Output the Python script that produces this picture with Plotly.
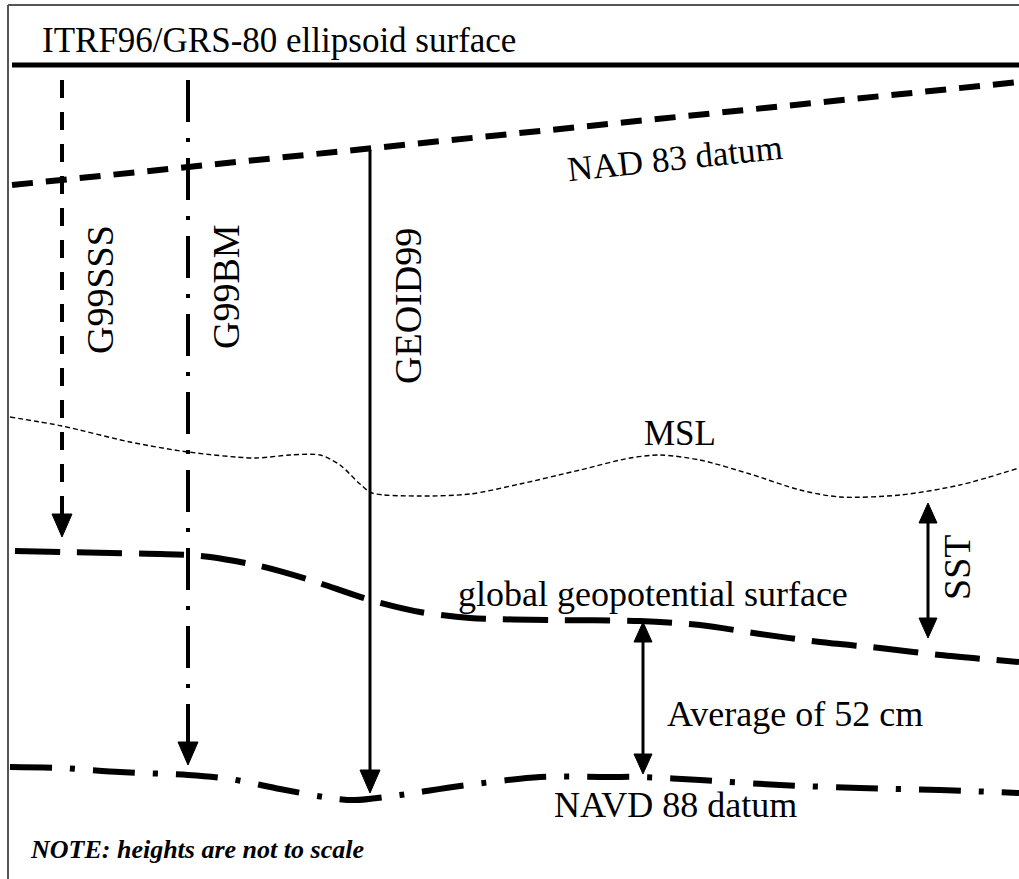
import plotly.graph_objects as go

# ---- data (diagram coordinates, pixel-like units, y grows downward) ----
nad83_x = [12, 1019]
nad83_y = [185, 82]

msl_x = [10, 62, 130, 188, 255, 290, 320, 340, 360, 372, 420, 470, 520, 580, 630, 660, 700, 750, 800, 840, 900, 960, 1019]
msl_y = [417, 426, 442, 452, 458, 455, 455, 465, 484, 493, 496, 494, 484, 470, 458, 455, 460, 474, 490, 497, 495, 485, 468]

geo_x = [15, 62, 188, 210, 260, 310, 370, 420, 470, 550, 640, 700, 760, 820, 880, 940, 1019]
geo_y = [551, 552, 555, 557, 566, 580, 600, 612, 618, 620, 621, 625, 634, 642, 648, 655, 662]

navd_x = [10, 60, 120, 188, 230, 280, 330, 355, 400, 460, 540, 600, 640, 700, 780, 860, 940, 1019]
navd_y = [767, 768, 772, 775, 779, 789, 798, 800, 795, 786, 777, 777, 777, 780, 785, 788, 790, 793]

# vertical separations: name, x, top, bottom(tip)
sep_names = ["G99SSS", "G99BM", "GEOID99"]
sep_x = [62, 188, 370]
sep_top = [80, 80, 150]
sep_tip = [537, 765, 793]
sep_label_x = [100, 226, 408]
sep_label_y = [290, 287, 306]

# double arrows: x, top tip, bottom tip
dbl_names = ["SST", "Average of 52 cm"]
dbl_x = [928, 643]
dbl_top = [503, 622]
dbl_bot = [638, 774]

ELL_Y = 65

BLACK = "#000000"
FONT = "Liberation Serif, Times New Roman, serif"

fig = go.Figure()

def add_line(x, y, width, dash, shape="linear"):
    fig.add_trace(go.Scatter(x=x, y=y, mode="lines", hoverinfo="skip",
                             line=dict(color=BLACK, width=width, dash=dash, shape=shape,
                                       smoothing=0.8 if shape == "spline" else None)))

def add_head(x, tip, direction, length=22, half=10):
    # direction: +1 pointing down, -1 pointing up
    base = tip - direction * length
    fig.add_trace(go.Scatter(x=[x - half, x + half, x, x - half],
                             y=[base, base, tip, base], mode="lines",
                             fill="toself", fillcolor=BLACK, hoverinfo="skip",
                             line=dict(color=BLACK, width=1)))

# ellipsoid surface line
add_line([12, 1019], [ELL_Y, ELL_Y], 5, "solid")
# NAD 83
add_line(nad83_x, nad83_y, 6, "21px,13px")
# MSL
add_line(msl_x, msl_y, 1.4, "5px,3px", "spline")
# global geopotential surface
add_line(geo_x, geo_y, 6, "45px,17px", "spline")
# NAVD 88
add_line(navd_x, navd_y, 6, "42px,18px,5px,18px", "spline")

# vertical separations
sep_dash = ["18px,14px", "42px,16px,4px,16px", "solid"]
sep_width = [4, 4, 3]
for i in range(3):
    add_line([sep_x[i], sep_x[i]], [sep_top[i], sep_tip[i] - 18], sep_width[i], sep_dash[i])
    add_head(sep_x[i], sep_tip[i], 1, 23, 10)

# double arrows
for i in range(2):
    add_line([dbl_x[i], dbl_x[i]], [dbl_top[i] + 15, dbl_bot[i] - 15], 3, "solid")
    add_head(dbl_x[i], dbl_top[i], -1, 20, 9)
    add_head(dbl_x[i], dbl_bot[i], 1, 20, 9)

ann = []
def text(s, x, y, size, angle=0, xanchor="center"):
    ann.append(dict(text=s, x=x, y=y, xref="x", yref="y", showarrow=False,
                    textangle=angle, xanchor=xanchor, yanchor="middle",
                    font=dict(family=FONT, size=size, color=BLACK)))

text("ITRF96/GRS-80 ellipsoid surface", 40, 40, 35, xanchor="left")
text("NAD 83 datum", 675, 158, 35, angle=-6)
for i in range(3):
    text(sep_names[i], sep_label_x[i], sep_label_y[i], 38, angle=-90)
text("MSL", 680, 433, 35)
text("SST", 957, 568, 38, angle=-90)
text("global geopotential surface", 653, 594, 36)
text("Average of 52 cm", 795, 714, 36)
text("NAVD 88 datum", 675, 805, 36)
text("<b><i>NOTE: heights are not to scale</i></b>", 28, 849, 26, xanchor="left")

fig.update_layout(
    width=1019, height=879,
    margin=dict(l=0, r=0, t=0, b=0),
    paper_bgcolor="white", plot_bgcolor="white",
    showlegend=False,
    xaxis=dict(range=[0, 1019], visible=False, fixedrange=True),
    yaxis=dict(range=[879, 0], visible=False, fixedrange=True),
    annotations=ann,
    shapes=[
        dict(type="line", xref="x", yref="y", x0=8, x1=8, y0=5, y1=879,
             line=dict(color="#555555", width=2)),
        dict(type="line", xref="x", yref="y", x0=8, x1=1019, y0=5, y1=5,
             line=dict(color="#555555", width=2)),
    ],
)

fig.write_html("out.html", config={"displayModeBar": False},
               post_script="document.body.style.margin='0';document.body.style.overflow='hidden';")
